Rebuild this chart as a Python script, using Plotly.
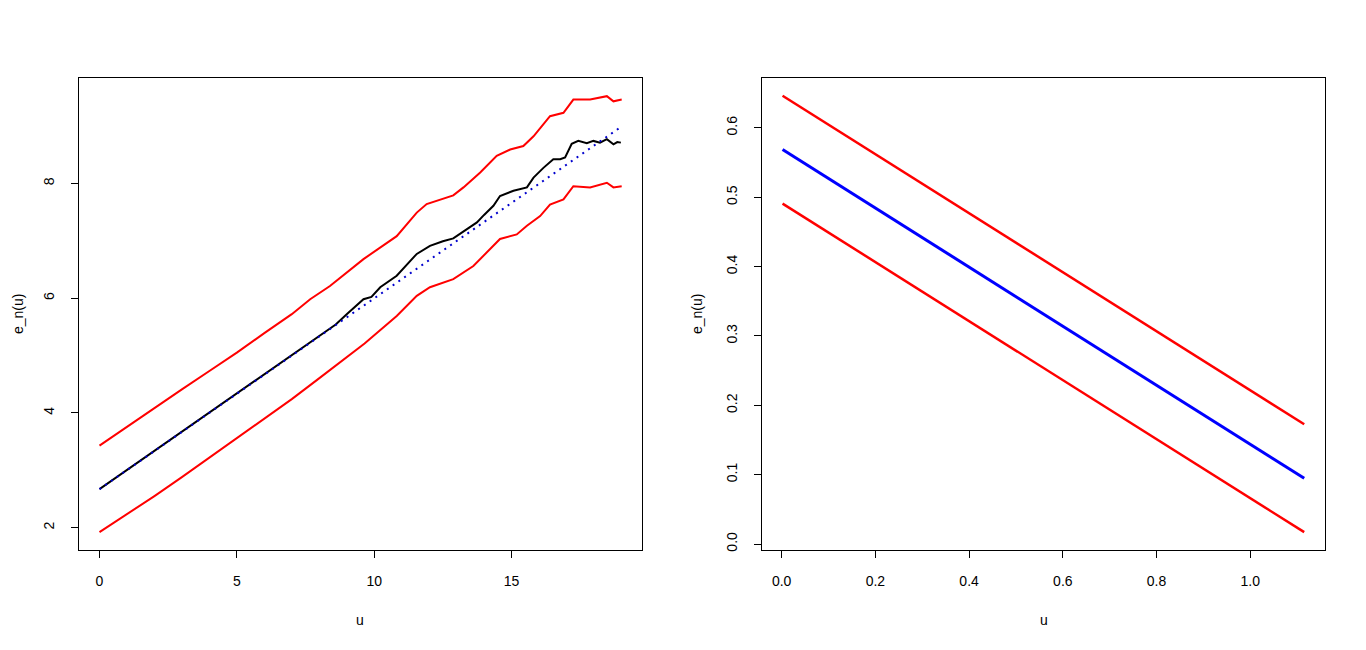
import plotly.graph_objects as go

# ---------------- Left panel data (mean excess plot) ----------------
u_black = [0, 2, 4, 6, 8, 8.6, 9.0, 9.37, 9.61, 9.9, 10.22, 10.82, 11.2, 11.55, 12.03, 12.5,
           12.88, 13.37, 13.74, 14.0, 14.34, 14.58, 15.07, 15.56, 15.80, 16.16, 16.52, 16.77,
           16.95, 17.19, 17.43, 17.74, 17.98, 18.22, 18.47, 18.71, 18.85, 18.98]
en_black = [2.67, 3.34, 4.00, 4.67, 5.34, 5.54, 5.72, 5.88, 5.98, 6.02, 6.19, 6.39, 6.58, 6.77,
            6.91, 6.99, 7.04, 7.20, 7.32, 7.45, 7.61, 7.78, 7.87, 7.93, 8.10, 8.27, 8.42, 8.42,
            8.45, 8.69, 8.74, 8.70, 8.74, 8.71, 8.77, 8.68, 8.72, 8.71]

u_upper = [0, 1, 2, 3, 4, 5, 6, 7, 7.67, 8.39, 9.61, 10.82, 11.55, 11.91, 12.88, 13.25, 13.86,
           14.46, 14.95, 15.43, 15.80, 16.40, 16.89, 17.25, 17.86, 18.47, 18.71, 19.01]
en_upper = [3.43, 3.76, 4.08, 4.41, 4.73, 5.05, 5.39, 5.72, 5.98, 6.21, 6.68, 7.08, 7.49, 7.64,
            7.79, 7.93, 8.19, 8.48, 8.59, 8.65, 8.82, 9.17, 9.23, 9.46, 9.46, 9.52, 9.43, 9.46]

u_lower = [0, 1, 2, 3, 4, 5, 6, 7, 7.91, 8.76, 9.65, 10.82, 11.55, 12.03, 12.88, 13.61, 14.22,
           14.58, 15.19, 15.56, 16.04, 16.40, 16.89, 17.25, 17.86, 18.47, 18.71, 19.01]
en_lower = [1.92, 2.23, 2.55, 2.88, 3.22, 3.57, 3.90, 4.24, 4.57, 4.88, 5.21, 5.69, 6.04, 6.19,
            6.33, 6.56, 6.85, 7.03, 7.11, 7.26, 7.43, 7.63, 7.72, 7.95, 7.93, 8.01, 7.93, 7.95]

u_fit = [0, 19.0]
en_fit = [2.67, 8.99]

left_xticks = [0, 5, 10, 15]
left_yticks = [2, 4, 6, 8]

# ---------------- Right panel data ----------------
u2 = [0.002, 1.115]
en2_fit = [0.5688, 0.0947]
en2_upper = [0.6464, 0.1727]
en2_lower = [0.4908, 0.0171]

right_xticks = [0.0, 0.2, 0.4, 0.6, 0.8, 1.0]
right_xlabels = ["0.0", "0.2", "0.4", "0.6", "0.8", "1.0"]
right_yticks = [0.0, 0.1, 0.2, 0.3, 0.4, 0.5, 0.6]
right_ylabels = ["0.0", "0.1", "0.2", "0.3", "0.4", "0.5", "0.6"]

# The page body has an 8px margin; lay out in page pixels and convert.
OFF = 8
W, H = 1350, 634
FONT = "Liberation Sans, Arial, sans-serif"


def fx(px):
    return (px - OFF) / W


def fy(py):
    return 1 - (py - OFF) / H


fig = go.Figure()

# left panel
fig.add_trace(go.Scatter(x=u_black, y=en_black, mode="lines",
                         line=dict(color="black", width=2), xaxis="x", yaxis="y"))
fig.add_trace(go.Scatter(x=u_fit, y=en_fit, mode="lines",
                         line=dict(color="#0000CD", width=2, dash="2px,5px"), xaxis="x", yaxis="y"))
fig.add_trace(go.Scatter(x=u_upper, y=en_upper, mode="lines",
                         line=dict(color="#FF0000", width=2), xaxis="x", yaxis="y"))
fig.add_trace(go.Scatter(x=u_lower, y=en_lower, mode="lines",
                         line=dict(color="#FF0000", width=2), xaxis="x", yaxis="y"))

# right panel
fig.add_trace(go.Scatter(x=u2, y=en2_upper, mode="lines",
                         line=dict(color="#FF0000", width=2.5), xaxis="x2", yaxis="y2"))
fig.add_trace(go.Scatter(x=u2, y=en2_lower, mode="lines",
                         line=dict(color="#FF0000", width=2.5), xaxis="x2", yaxis="y2"))
fig.add_trace(go.Scatter(x=u2, y=en2_fit, mode="lines",
                         line=dict(color="#0000FF", width=3), xaxis="x2", yaxis="y2"))

ydom = [fy(551.7), fy(78.3)]
axis_common = dict(showline=True, mirror=True, linecolor="black", linewidth=1,
                   ticks="outside", ticklen=7, tickcolor="black", tickwidth=1,
                   showgrid=False, zeroline=False,
                   tickfont=dict(family=FONT, size=14, color="black"))

fig.update_layout(
    width=W, height=H, autosize=False,
    margin=dict(l=0, r=0, t=0, b=0),
    paper_bgcolor="white", plot_bgcolor="white",
    showlegend=False,
    xaxis=dict(domain=[fx(78.5), fx(642.3)], range=[-0.764, 19.76],
               tickvals=left_xticks, ticklabelstandoff=11, anchor="y", **axis_common),
    yaxis=dict(domain=ydom, range=[1.61, 9.835], tickvals=left_yticks,
               tickangle=-90, ticklabelstandoff=11, anchor="x", **axis_common),
    xaxis2=dict(domain=[fx(761.7), fx(1325.3)], range=[-0.0425, 1.160],
                tickvals=right_xticks, ticktext=right_xlabels, ticklabelstandoff=11,
                anchor="y2", **axis_common),
    yaxis2=dict(domain=ydom, range=[-0.0086, 0.6718], tickvals=right_yticks,
                ticktext=right_ylabels, tickangle=-90, ticklabelstandoff=11,
                anchor="x2", **axis_common),
)

title_font = dict(family=FONT, size=14, color="black")
fig.add_annotation(text="u", x=fx(359.5), y=fy(621.7), xref="paper", yref="paper",
                   showarrow=False, font=title_font, xanchor="center", yanchor="middle")
fig.add_annotation(text="u", x=fx(1043.5), y=fy(621.7), xref="paper", yref="paper",
                   showarrow=False, font=title_font, xanchor="center", yanchor="middle")
fig.add_annotation(text="e_n(u)", x=fx(8), y=fy(315), xref="paper", yref="paper",
                   showarrow=False, font=title_font, textangle=-90,
                   xanchor="left", yanchor="middle")
fig.add_annotation(text="e_n(u)", x=fx(697), y=fy(315), xref="paper", yref="paper",
                   showarrow=False, font=title_font, textangle=-90,
                   xanchor="center", yanchor="middle")

fig.write_html("out.html")
